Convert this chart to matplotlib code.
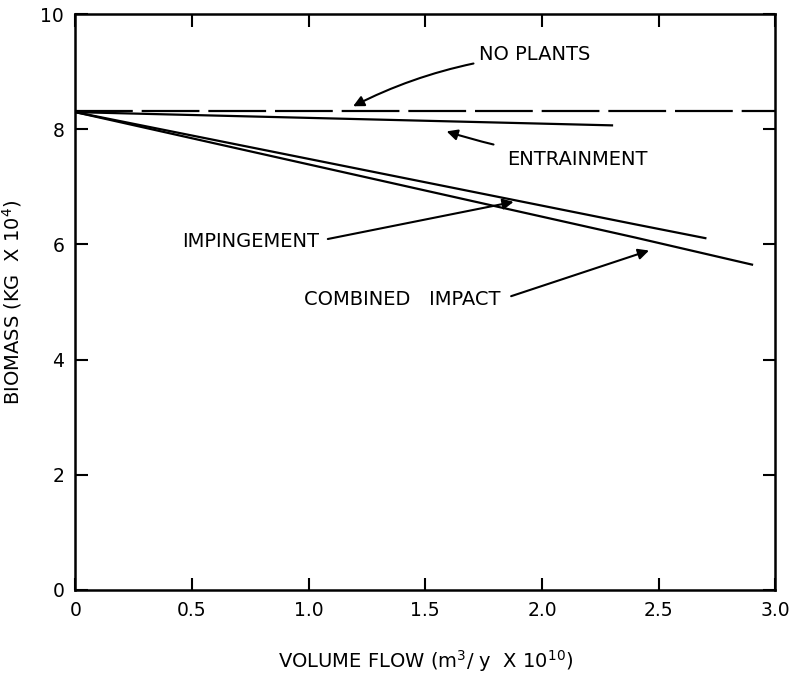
import matplotlib
matplotlib.use("Agg")
import matplotlib.pyplot as plt

# data
flow_range = [0.0, 3.0]
no_plants = [8.32, 8.32]

entrain_x = [0.0, 2.3]
entrain_y = [8.30, 8.07]

imping_x = [0.0, 2.4, 2.7]
imping_y = [8.30, 6.35, 6.11]

combined_x = [0.0, 2.4, 2.9]
combined_y = [8.30, 6.12, 5.65]

x_ticks = [0, 0.5, 1.0, 1.5, 2.0, 2.5, 3.0]
x_labels = ["0", "0.5", "1.0", "1.5", "2.0", "2.5", "3.0"]
y_ticks = [0, 2, 4, 6, 8, 10]

plt.rcParams["font.family"] = ["DejaVu Sans"]

fig = plt.figure(figsize=(7.92, 6.81), dpi=100)
ax = fig.add_axes([0.095, 0.134, 0.884, 0.845])

ax.plot(flow_range, no_plants, color="black", lw=1.6, dashes=(26, 4))
ax.plot(entrain_x, entrain_y, color="black", lw=1.6)
ax.plot(imping_x, imping_y, color="black", lw=1.6)
ax.plot(combined_x, combined_y, color="black", lw=1.6)

ax.set_xlim(0, 3.0)
ax.set_ylim(0, 10)
ax.set_xticks(x_ticks)
ax.set_xticklabels(x_labels)
ax.set_yticks(y_ticks)
ax.tick_params(direction="in", length=9, width=1.5, labelsize=13.5,
               top=True, right=True, pad=8)
for s in ax.spines.values():
    s.set_linewidth(1.8)

ax.set_xlabel(r"VOLUME FLOW (m$^3$/ y  X 10$^{10}$)", fontsize=14, labelpad=20)
ax.set_ylabel(r"BIOMASS (KG  X 10$^4$)", fontsize=14, labelpad=12)

arrow = dict(arrowstyle="-|>", color="black", lw=1.5, mutation_scale=16)
txt = dict(fontsize=14, va="center", ha="left")

ax.annotate("NO PLANTS", xy=(1.18, 8.38), xytext=(1.73, 9.3),
            arrowprops=dict(arrow, connectionstyle="arc3,rad=0.1"), **txt)
ax.annotate("ENTRAINMENT", xy=(1.58, 7.98), xytext=(1.85, 7.48),
            arrowprops=dict(arrow, shrinkA=8, connectionstyle="arc3,rad=-0.05"), **txt)
ax.annotate("IMPINGEMENT", xy=(1.89, 6.75), xytext=(0.46, 6.05),
            arrowprops=dict(arrow, shrinkA=4, relpos=(1.0, 0.55)), **txt)
ax.annotate("COMBINED   IMPACT", xy=(2.47, 5.91), xytext=(0.98, 5.04),
            arrowprops=dict(arrow, shrinkA=6, relpos=(1.0, 0.5)), **txt)

fig.savefig("out.png", dpi=100)
